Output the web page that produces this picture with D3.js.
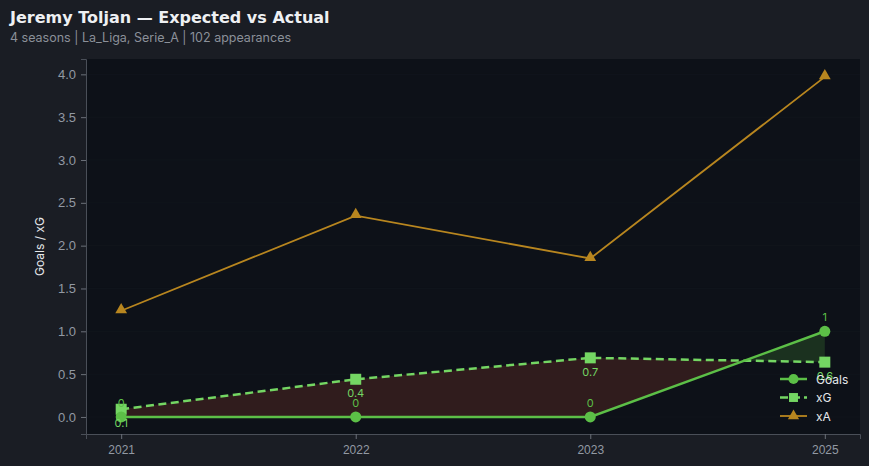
<!DOCTYPE html>
<html>
<head>
<meta charset="utf-8">
<script src="https://cdn.jsdelivr.net/npm/d3@7"></script>
<style>
  html, body { margin: 0; padding: 0; background: #1a1d24; }
  svg { display: block; font-family: Inter, "Noto Sans", sans-serif; }
</style>
</head>
<body>
<svg id="chart" width="869" height="466"></svg>
<script>
var seasons = ['2021', '2022', '2023', '2025'],
    goals = [0, 0, 0, 1],
    xg = [0.09, 0.44, 0.69, 0.64],
    xa = [1.24, 2.35, 1.85, 3.97],
    yTicks = [0, 0.5, 1, 1.5, 2, 2.5, 3, 3.5, 4];

var W = 869, H = 466,
    plot = { left: 86, right: 860, top: 59, bottom: 434 },
    GOALS_COLOR = '#5cbf47',
    XG_COLOR = '#74d663',
    XA_COLOR = '#b8861f';

var svg = d3.select('#chart');

svg.append('rect').attr('width', W).attr('height', H).attr('fill', '#1a1d24');
svg.append('rect')
  .attr('x', plot.left).attr('y', plot.top)
  .attr('width', plot.right - plot.left).attr('height', plot.bottom - plot.top)
  .attr('fill', '#0d1118');

var x = d3.scaleLinear().domain([-0.15, seasons.length - 1 + 0.15]).range([plot.left, plot.right]),
    y = d3.scaleLinear().domain([-0.199, 4.179]).range([plot.bottom, plot.top]);

// very faint grid
svg.append('g').selectAll('line')
  .data(yTicks).enter().append('line')
  .attr('x1', plot.left).attr('x2', plot.right)
  .attr('y1', function(d) { return y(d); }).attr('y2', function(d) { return y(d); })
  .attr('stroke', '#12161d').attr('stroke-width', 0.8);

// axes
var yAxis = svg.append('g')
  .attr('transform', 'translate(' + plot.left + ',0)')
  .call(d3.axisLeft(y).tickValues(yTicks).tickFormat(d3.format('.1f')).tickSize(5).tickPadding(5));
var xAxis = svg.append('g')
  .attr('transform', 'translate(0,' + plot.bottom + ')')
  .call(d3.axisBottom(x).tickValues(d3.range(seasons.length)).tickFormat(function(i) { return seasons[i]; }).tickSize(5).tickPadding(6));

[yAxis, xAxis].forEach(function(a) {
  a.select('.domain').attr('stroke', '#4a4f58');
  a.selectAll('.tick line').attr('stroke', '#6b7079');
  a.selectAll('.tick text').attr('fill', '#9299a3').style('font-size', '13px');
});
xAxis.selectAll('.tick text').style('font-size', '12px');

svg.append('text')
  .attr('transform', 'translate(44,' + ((plot.top + plot.bottom) / 2) + ') rotate(-90)')
  .attr('text-anchor', 'middle')
  .attr('fill', '#e6e8eb').style('font-size', '12px')
  .text('Goals / xG');

// fill between goals and xG, split at crossings
function crossingPoints() {
  var pts = [];
  for (var i = 0; i < seasons.length; i++) {
    pts.push({ t: i, g: goals[i], e: xg[i] });
    if (i < seasons.length - 1) {
      var d0 = goals[i] - xg[i], d1 = goals[i + 1] - xg[i + 1];
      if (d0 * d1 < 0) {
        var f = d0 / (d0 - d1);
        pts.push({ t: i + f, g: goals[i] + f * (goals[i + 1] - goals[i]), e: xg[i] + f * (xg[i + 1] - xg[i]) });
      }
    }
  }
  return pts;
}
var pts = crossingPoints();
svg.append('path')
  .datum(pts)
  .attr('fill', '#3a1f1f').attr('fill-opacity', 0.8)
  .attr('d', d3.area()
    .x(function(p) { return x(p.t); })
    .y0(function(p) { return y(p.g); })
    .y1(function(p) { return y(Math.max(p.g, p.e)); }));
svg.append('path')
  .datum(pts)
  .attr('fill', '#1f3a22').attr('fill-opacity', 0.8)
  .attr('d', d3.area()
    .x(function(p) { return x(p.t); })
    .y0(function(p) { return y(p.e); })
    .y1(function(p) { return y(Math.max(p.g, p.e)); }));

var line = function(vals) {
  return d3.line().x(function(d, i) { return x(i); }).y(function(d) { return y(d); })(vals);
};

// xA
svg.append('path').attr('d', line(xa)).attr('fill', 'none')
  .attr('stroke', XA_COLOR).attr('stroke-width', 1.8);
svg.append('g').selectAll('path').data(xa).enter().append('path')
  .attr('d', d3.symbol().type(d3.symbolTriangle).size(60))
  .attr('transform', function(d, i) { return 'translate(' + x(i) + ',' + (y(d) - 1) + ')'; })
  .attr('fill', XA_COLOR);

// xG
svg.append('path').attr('d', line(xg)).attr('fill', 'none')
  .attr('stroke', XG_COLOR).attr('stroke-width', 2.5).attr('stroke-dasharray', '8,4.5');
svg.append('g').selectAll('rect').data(xg).enter().append('rect')
  .attr('x', function(d, i) { return x(i) - 5.5; })
  .attr('y', function(d) { return y(d) - 5.5; })
  .attr('width', 11).attr('height', 11)
  .attr('fill', XG_COLOR);

// Goals
svg.append('path').attr('d', line(goals)).attr('fill', 'none')
  .attr('stroke', GOALS_COLOR).attr('stroke-width', 2.5);
svg.append('g').selectAll('circle').data(goals).enter().append('circle')
  .attr('cx', function(d, i) { return x(i); })
  .attr('cy', function(d) { return y(d); })
  .attr('r', 5.5)
  .attr('fill', GOALS_COLOR);

// value labels
svg.append('g').selectAll('text').data(goals).enter().append('text')
  .attr('x', function(d, i) { return x(i); })
  .attr('y', function(d) { return y(d) - 10; })
  .attr('text-anchor', 'middle')
  .attr('fill', GOALS_COLOR).style('font-size', '11px')
  .text(function(d) { return d3.format('d')(d); });
svg.append('g').selectAll('text').data(xg).enter().append('text')
  .attr('x', function(d, i) { return x(i); })
  .attr('y', function(d) { return y(d) + 18; })
  .attr('text-anchor', 'middle')
  .attr('fill', XG_COLOR).style('font-size', '11px')
  .text(function(d) { return (Math.floor(d * 10 + 0.5 - 1e-9) / 10).toFixed(1); });

// legend
var legendItems = [
  { name: 'Goals', color: GOALS_COLOR, marker: 'circle', dash: null, w: 2.5 },
  { name: 'xG', color: XG_COLOR, marker: 'square', dash: '8,4', w: 2.5 },
  { name: 'xA', color: XA_COLOR, marker: 'triangle', dash: null, w: 1.8 }
];
var legend = svg.append('g').selectAll('g').data(legendItems).enter().append('g')
  .attr('transform', function(d, i) { return 'translate(780,' + (379 + i * 18.5) + ')'; });
legend.append('line')
  .attr('x1', 0).attr('x2', 27).attr('y1', 0).attr('y2', 0)
  .attr('stroke', function(d) { return d.color; })
  .attr('stroke-width', function(d) { return d.w; })
  .attr('stroke-dasharray', function(d) { return d.dash; });
legend.append('path')
  .attr('d', function(d) {
    var t = d.marker === 'circle' ? d3.symbolCircle : d.marker === 'square' ? d3.symbolSquare : d3.symbolTriangle;
    return d3.symbol().type(t).size(d.marker === 'triangle' ? 55 : 80)();
  })
  .attr('transform', 'translate(13.5,0)')
  .attr('fill', function(d) { return d.color; });
legend.append('text')
  .attr('x', 36).attr('y', 4.5)
  .attr('fill', '#e6e8eb').style('font-size', '12px')
  .text(function(d) { return d.name; });

// titles
svg.append('text')
  .attr('x', 10).attr('y', 23)
  .attr('fill', '#eef0f3')
  .style('font-family', '"DejaVu Sans", sans-serif')
  .style('font-size', '16px').style('font-weight', 'bold')
  .text('Jeremy Toljan — Expected vs Actual');
svg.append('text')
  .attr('x', 10).attr('y', 42)
  .attr('fill', '#8b9099').style('font-size', '12.5px')
  .text('4 seasons | La_Liga, Serie_A | 102 appearances');
</script>
</body>
</html>
